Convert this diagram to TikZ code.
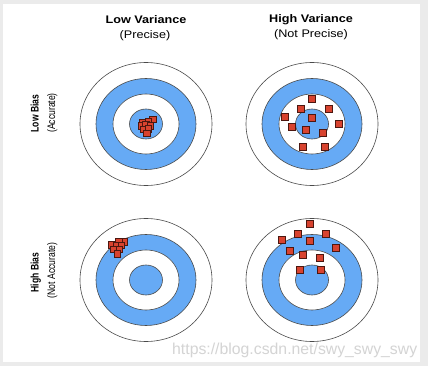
\documentclass[tikz,border=0pt]{standalone}
\usepackage{fontspec}
\setmainfont{Liberation Sans}
\definecolor{tblue}{HTML}{66AAF5}
\definecolor{tred}{HTML}{D8432F}
\definecolor{tedge}{HTML}{4A4A4A}
\definecolor{bggray}{HTML}{EBEBEB}
\definecolor{wmark}{HTML}{D4D4D4}
\tikzset{
  ringline/.style={draw=tedge, line width=0.6pt},
  hit/.style={fill=tred, draw=black!65!tred, line width=0.5pt},
  toplabel/.style={anchor=base, inner sep=0pt, font=\fontsize{11}{13}\selectfont},
  sidelabel/.style={anchor=base, rotate=90, inner sep=0pt, font=\fontsize{11}{13}\selectfont},
}
\newcommand\drawtarget[2]{%
  \filldraw[ringline, fill=white] (#1,#2) ellipse [x radius=66pt, y radius=61.5pt];
  \filldraw[ringline, fill=tblue] (#1,#2) ellipse [x radius=50pt, y radius=45.5pt];
  \filldraw[ringline, fill=white] (#1,#2) ellipse [x radius=33pt, y radius=30pt];
  \filldraw[ringline, fill=tblue] (#1,#2) ellipse [x radius=16.5pt, y radius=15pt];
}
\begin{document}
\begin{tikzpicture}[x=1pt, y=-1pt]
  \useasboundingbox (0,0) rectangle (428,366);
  \fill[bggray] (0,0) rectangle (428,366);
  \fill[white] (3,4) rectangle (420,362);

  % column titles
  \node[toplabel] (lvt) at (146,24) {\scalebox{1.15}[1]{\bfseries Low Variance}};
  \node[toplabel] (lvs) at (145,38.5) {\scalebox{1.15}[1]{(Precise)}};
  \node[toplabel] (hvt) at (311,23) {\scalebox{1.15}[1]{\bfseries High Variance}};
  \node[toplabel] (hvs) at (311,37.5) {\scalebox{1.15}[1]{(Not Precise)}};

  % row titles
  \node[sidelabel] (lbt) at (38.5,113.5) {\scalebox{0.78}[1]{\bfseries Low Bias}};
  \node[sidelabel] (lbs) at (55,113) {\scalebox{0.78}[1]{(Accurate)}};
  \node[sidelabel] (hbt) at (38.5,272.5) {\scalebox{0.78}[1]{\bfseries High Bias}};
  \node[sidelabel] (hbs) at (55,270.5) {\scalebox{0.78}[1]{(Not Accurate)}};

  % targets
  \drawtarget{146}{124}
  \drawtarget{312}{124}
  \drawtarget{146}{280}
  \drawtarget{312}{280}

  % low bias, low variance
  \foreach \p in {(152.7,119.3),(142,122.5),(148.3,121.7),(141,125.7),(145.7,125),(150,125.7),(143.3,129.3),(148.3,129),(146.7,133.3)}
    \filldraw[hit] \p ++(-3.25pt,-3.25pt) rectangle ++(6.5pt,6.5pt);

  % low bias, high variance
  \foreach \p in {(312,99),(301,109),(329,109),(285,117),(312,118),(292,127),(339,124),(306,130),(323,133),(303,147),(325,147)}
    \filldraw[hit] \p ++(-3.6pt,-3.6pt) rectangle ++(7.2pt,7.2pt);

  % high bias, low variance
  \foreach \p in {(123.5,241.5),(118.5,241),(111,244.5),(116,245),(121,245),(113.5,249),(119,249),(117,253.5)}
    \filldraw[hit] \p ++(-3.25pt,-3.25pt) rectangle ++(6.5pt,6.5pt);

  % high bias, high variance
  \foreach \p in {(310,224),(298,234),(326,234),(282,240),(310,241),(336,248),(290,251),(303,255),(320,258),(300,270),(321,270)}
    \filldraw[hit] \p ++(-3.6pt,-3.6pt) rectangle ++(7.2pt,7.2pt);

  % watermark
  \node[anchor=base west, inner sep=0pt, text=wmark, font=\fontsize{15.8}{18}\selectfont] (wm) at (172,354) {https://blog.csdn.net/swy\_swy\_swy};
\end{tikzpicture}
\end{document}
